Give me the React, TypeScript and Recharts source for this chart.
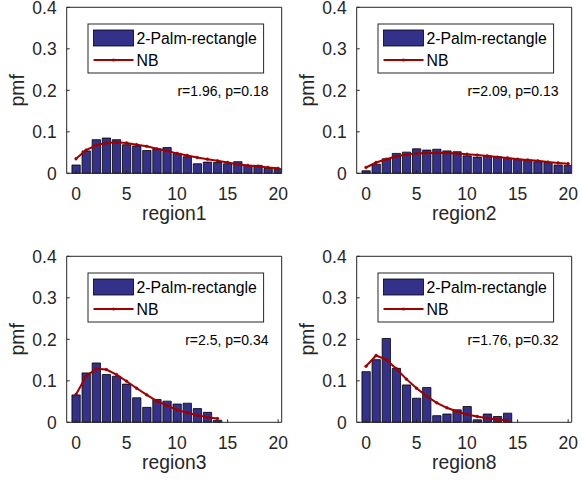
import React from 'react';
import { ComposedChart, Bar, Line, XAxis, YAxis } from 'recharts';

const xTicks = [0, 5, 10, 15, 20];
const yTicks = [0, 0.1, 0.2, 0.3, 0.4];
const seriesName = '2-Palm-rectangle';
const fitName = 'NB';

const region1Bars = [0.02, 0.054, 0.081, 0.085, 0.081, 0.069, 0.066, 0.055, 0.059, 0.062, 0.048, 0.04, 0.023, 0.027, 0.026, 0.023, 0.028, 0.019, 0.019, 0.012, 0.011];
const region1Nb = [0.035, 0.056, 0.068, 0.073, 0.075, 0.073, 0.069, 0.065, 0.059, 0.054, 0.048, 0.043, 0.038, 0.034, 0.03, 0.026, 0.022, 0.019, 0.017, 0.014, 0.012];

const region2Bars = [0.006, 0.022, 0.035, 0.048, 0.051, 0.059, 0.056, 0.058, 0.054, 0.052, 0.042, 0.039, 0.042, 0.04, 0.036, 0.034, 0.032, 0.028, 0.026, 0.02, 0.019];
const region2Nb = [0.014, 0.026, 0.034, 0.041, 0.045, 0.048, 0.049, 0.049, 0.049, 0.048, 0.046, 0.044, 0.042, 0.039, 0.037, 0.034, 0.032, 0.03, 0.027, 0.025, 0.023];

const region3Bars = [0.066, 0.119, 0.143, 0.115, 0.111, 0.092, 0.059, 0.036, 0.055, 0.051, 0.044, 0.046, 0.033, 0.024, 0.005];
const region3Nb = [0.067, 0.111, 0.129, 0.127, 0.115, 0.099, 0.082, 0.066, 0.051, 0.04, 0.03, 0.023, 0.017, 0.012, 0.009];

const region8Bars = [0.122, 0.151, 0.202, 0.13, 0.09, 0.058, 0.084, 0.016, 0.02, 0.03, 0.038, 0.006, 0.02, 0.014, 0.022];
const region8Nb = [0.135, 0.161, 0.151, 0.129, 0.104, 0.082, 0.063, 0.047, 0.035, 0.026, 0.019, 0.014, 0.01, 0.007, 0.005];

const FONT = '"Liberation Sans", Arial, Helvetica, sans-serif';
const AXIS = '#262626';
const BAR_FILL = '#34318a';
const LINE_RED = '#a00000';
// extra room above each chart so the top tick label is not clipped by the svg
const PAD = 8;

const toRows = (bars: number[], nb: number[]) => bars.map((v, i) => ({ x: i, pmf: v, nb: nb[i] }));

interface PanelProps {
  left: number;
  top: number;
  bars: number[];
  nb: number[];
  xLabel: string;
  note: string;
}

const LegendBox = () => (
  <svg
    width={176}
    height={49}
    style={{ position: 'absolute', left: 87.5, top: 23.5 + PAD, overflow: 'visible' }}
  >
    <rect x={0} y={0} width={175.6} height={49} fill="#fff" stroke={AXIS} strokeWidth={1} />
    <rect x={5.5} y={6} width={40} height={16} fill={BAR_FILL} stroke="#000" strokeWidth={0.8} />
    <text x={48.5} y={14} dominantBaseline="central" fontSize={15.8} fontFamily={FONT} fill="#000">
      {seriesName}
    </text>
    <line x1={5.5} x2={45.5} y1={36} y2={36} stroke={LINE_RED} strokeWidth={2} />
    <circle cx={25.5} cy={36} r={1.5} fill={LINE_RED} />
    <text x={48.5} y={36} dominantBaseline="central" fontSize={15.8} fontFamily={FONT} fill="#000">
      {fitName}
    </text>
  </svg>
);

const Panel = ({ left, top, bars, nb, xLabel, note }: PanelProps) => {
  const data = toRows(bars, nb);
  return (
    <div style={{ position: 'absolute', left, top: top - PAD, width: 290, height: 240 + PAD }}>
      <ComposedChart
        width={290}
        height={240 + PAD}
        data={data}
        margin={{ top: 6.3 + PAD, right: 7.3, left: 0, bottom: 0 }}
        style={{ fontFamily: FONT }}
      >
        <XAxis
          dataKey="x"
          type="number"
          domain={[-0.92, 20.35]}
          allowDataOverflow
          ticks={xTicks}
          interval={0}
          height={66.7}
          tickSize={-3}
          tickMargin={17.4}
          axisLine={{ stroke: AXIS }}
          tickLine={{ stroke: AXIS }}
          tick={{ fill: AXIS, fontSize: 17.5 }}
          label={{ value: xLabel, position: 'insideTop', offset: 33, fill: AXIS, fontSize: 19.3 }}
        />
        <XAxis
          xAxisId="top"
          orientation="top"
          type="number"
          domain={[-0.92, 20.35]}
          allowDataOverflow
          ticks={xTicks}
          interval={0}
          height={1}
          tickSize={-3}
          tick={false}
          axisLine={{ stroke: AXIS }}
          tickLine={{ stroke: AXIS }}
        />
        <YAxis
          type="number"
          domain={[0, 0.4]}
          ticks={yTicks}
          interval={0}
          width={66.7}
          tickSize={-3}
          tickMargin={13}
          axisLine={{ stroke: AXIS }}
          tickLine={{ stroke: AXIS }}
          tick={{ fill: AXIS, fontSize: 17.5 }}
          label={{
            value: 'pmf',
            angle: -90,
            position: 'insideLeft',
            offset: 17.5,
            fill: AXIS,
            fontSize: 19.3,
            style: { textAnchor: 'middle' },
          }}
        />
        <YAxis
          yAxisId="right"
          orientation="right"
          type="number"
          domain={[0, 0.4]}
          ticks={yTicks}
          interval={0}
          width={1}
          tickSize={-3}
          tick={false}
          axisLine={{ stroke: AXIS }}
          tickLine={{ stroke: AXIS }}
        />
        <Bar
          dataKey="pmf"
          name={seriesName}
          fill={BAR_FILL}
          stroke="#000"
          strokeWidth={0.8}
          barSize={8.3}
          isAnimationActive={false}
        />
        <Line
          dataKey="nb"
          name={fitName}
          type="linear"
          stroke={LINE_RED}
          strokeWidth={2}
          dot={{ r: 1.4, fill: LINE_RED, stroke: LINE_RED, strokeWidth: 0.5 }}
          isAnimationActive={false}
        />
      </ComposedChart>
      <LegendBox />
      <div
        style={{
          position: 'absolute',
          right: 290 - 268.5,
          top: 82 + PAD,
          fontFamily: FONT,
          fontSize: 14,
          lineHeight: '18px',
          color: '#000',
          whiteSpace: 'nowrap',
        }}
      >
        {note}
      </div>
    </div>
  );
};

export default function App() {
  return (
    <div style={{ position: 'absolute', left: 0, top: 0, width: 581, height: 485, background: '#fff', overflow: 'hidden' }}>
      <Panel left={0} top={0} bars={region1Bars} nb={region1Nb} xLabel="region1" note="r=1.96, p=0.18" />
      <Panel left={290} top={0} bars={region2Bars} nb={region2Nb} xLabel="region2" note="r=2.09, p=0.13" />
      <Panel left={0} top={249} bars={region3Bars} nb={region3Nb} xLabel="region3" note="r=2.5, p=0.34" />
      <Panel left={290} top={249} bars={region8Bars} nb={region8Nb} xLabel="region8" note="r=1.76, p=0.32" />
    </div>
  );
}
